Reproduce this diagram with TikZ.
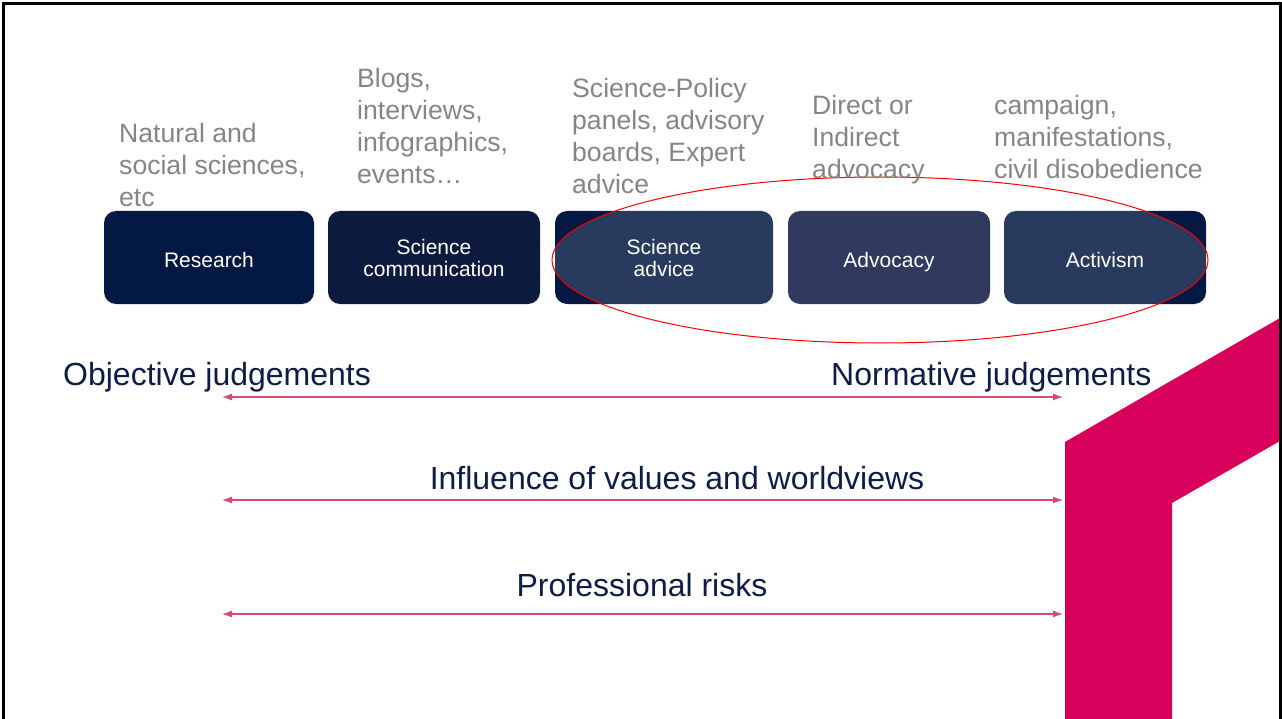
\documentclass[tikz,border=0pt]{standalone}
\usepackage{fontspec}
\setmainfont{Liberation Sans}
\usetikzlibrary{arrows.meta}
\usetikzlibrary{shapes.geometric}
\definecolor{navy}{HTML}{031842}
\definecolor{navycomm}{HTML}{0C1A3E}
\definecolor{navyadvocacy}{HTML}{0C1843}
\definecolor{examplegrey}{HTML}{858585}
\definecolor{judgeblue}{HTML}{0E1D48}
\definecolor{brandpink}{HTML}{D7005A}
\definecolor{spanpink}{HTML}{D9487A}
\tikzset{
  stage/.style={rectangle, rounded corners=12pt, fill=navy, text=white, minimum height=93pt,
    inner sep=0pt, align=center, font={\fontsize{21}{22}\selectfont}},
  oneline/.style={text height=21pt, text depth=0pt},
  example/.style={anchor=north west, inner sep=0pt, align=left, text=examplegrey,
    font={\fontsize{26.6}{32}\selectfont}},
  judgement/.style={inner sep=0pt, text=judgeblue, font={\fontsize{32}{38}\selectfont}},
  span/.style={draw=spanpink, line width=1.1pt,
    {Latex[length=10pt,width=7pt]}-{Latex[length=10pt,width=7pt]}}
}

\begin{document}
\begin{tikzpicture}[x=1pt, y=-1pt]
\useasboundingbox (0,0) rectangle (1282,719);
%%% spectrum of science engagement %%%

      %% corner mark
      \fill[brandpink] (1065,719) -- (1065,442) -- (1280,318) -- (1280,441)
        -- (1172,503) -- (1172,719) -- cycle;

      %% stages
      \node[stage, oneline, minimum width=210pt] (research) at (209,257.5) {Research};
      \node[stage, minimum width=212pt, fill=navycomm] (scicomm) at (434,257.5) {Science\\communication};
      \node[stage, minimum width=218pt] (sciadvice) at (664,257.5) {Science\\advice};
      \node[stage, oneline, minimum width=202pt, fill=navyadvocacy] (advocacy) at (889,257.5) {Advocacy};
      \node[stage, oneline, minimum width=202pt] (activism) at (1105,257.5) {Activism};
      %
      \node[ellipse, draw=red, line width=1pt, fill=white, fill opacity=0.15,
        minimum width=656pt, minimum height=166pt] (focus) at (880,260) {};

      %% examples
      \node[example] (research-ex) at (119,123) {Natural and\\social sciences,\\etc};
      \node[example] (scicomm-ex) at (357,68) {Blogs,\\interviews,\\infographics,\\events\dots};
      \node[example] (sciadvice-ex) at (572,78) {Science-Policy\\panels, advisory\\boards, Expert\\advice};
      \node[example] (advocacy-ex) at (812,95) {Direct or\\Indirect\\advocacy};
      \node[example] (activism-ex) at (994,95) {campaign,\\manifestations,\\civil disobedience};

      %% judgements and spans
      \node[judgement, anchor=base west] (objective) at (63,385) {Objective judgements};
      \node[judgement, anchor=base west] (normative) at (831,385) {Normative judgements};
      \node[judgement, anchor=base] (values) at (677,489) {Influence of values and worldviews};
      \node[judgement, anchor=base] (risks) at (642,596) {Professional risks};
      %
      \foreach \y [count=\i] in {397,500,614}
      {
        \coordinate (span-l\i) at (222,\y);
        \coordinate (span-r\i) at (1063,\y);
        \draw[span] (span-l\i) -- (span-r\i);
      }

      %% frame
      \draw[line width=2.5pt] (3.5,719) -- (3.5,3.5) -- (1280.5,3.5) -- (1280.5,719);

\end{tikzpicture}
\end{document}
